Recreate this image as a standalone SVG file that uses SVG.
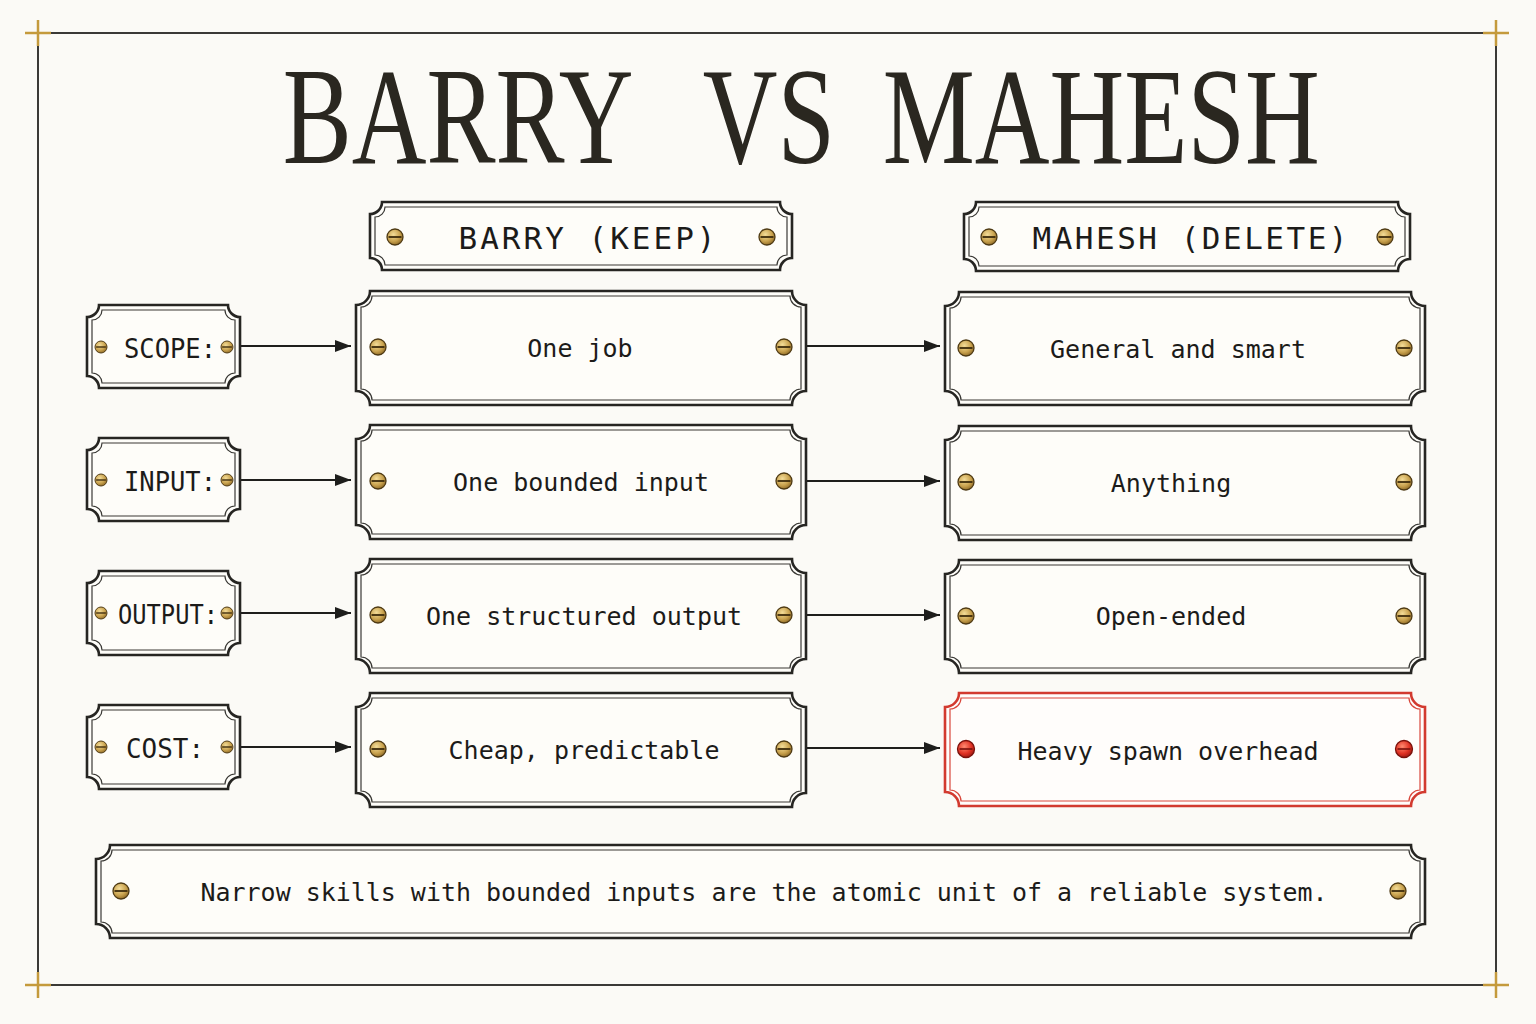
<svg xmlns="http://www.w3.org/2000/svg" width="1536" height="1024" viewBox="0 0 1536 1024">
<style>
.plate{fill:#fefdf9;stroke:#262522;stroke-width:2.6}
.inner{fill:none;stroke:#3a3935;stroke-width:1.2}
.red .plate{stroke:#d23a2f;fill:#fffdfb}
.red .inner{stroke:#d9483c}
.t{font-family:"DejaVu Sans Mono","Liberation Mono",monospace;fill:#1c1b19;text-anchor:middle;dominant-baseline:central}
.title{font-family:"Liberation Serif","DejaVu Serif",serif;fill:#2a2720;font-size:138px}
.conn line{stroke:#1e1e1c;stroke-width:2}
.frame{fill:none;stroke:#3a3936;stroke-width:2}
.cross{stroke:#c49a3c;stroke-width:2.5}
</style>
<defs>
<radialGradient id="brass" cx="0.4" cy="0.35" r="0.7">
<stop offset="0" stop-color="#f3dc98"/>
<stop offset="0.6" stop-color="#c9a24e"/>
<stop offset="1" stop-color="#8a6623"/>
</radialGradient>
<radialGradient id="ruby" cx="0.4" cy="0.35" r="0.7">
<stop offset="0" stop-color="#ff8a70"/>
<stop offset="0.6" stop-color="#e03224"/>
<stop offset="1" stop-color="#9c1610"/>
</radialGradient>
<g id="screw"><circle r="8" fill="url(#brass)" stroke="#4e3a14" stroke-width="1.3"/><line x1="-6.5" x2="6.5" y1="0" y2="0" stroke="#3e2c0c" stroke-width="1.8"/></g>
<g id="screwRed"><circle r="8.5" fill="url(#ruby)" stroke="#7a120c" stroke-width="1.3"/><line x1="-6.5" x2="6.5" y1="0" y2="0" stroke="#7a120c" stroke-width="1.6"/></g>
<marker id="arrow" viewBox="0 0 16 12" refX="16" refY="6" markerWidth="16" markerHeight="12" markerUnits="userSpaceOnUse" orient="auto">
<path d="M0,0 L16,6 L0,12 Z" fill="#1e1e1c"/>
</marker>
</defs>
<rect width="1536" height="1024" fill="#fbfaf6"/>
<g id="frame">
<rect class="frame" x="38" y="33" width="1458" height="952"/>
<g class="cross">
<line x1="25" y1="33" x2="51" y2="33"/><line x1="38" y1="20" x2="38" y2="46"/>
<line x1="1483" y1="33" x2="1509" y2="33"/><line x1="1496" y1="20" x2="1496" y2="46"/>
<line x1="25" y1="985" x2="51" y2="985"/><line x1="38" y1="972" x2="38" y2="998"/>
<line x1="1483" y1="985" x2="1509" y2="985"/><line x1="1496" y1="972" x2="1496" y2="998"/>
</g>
</g>
<g id="title" transform="scale(0.75,1)">
<text class="title" y="163"><tspan x="377">BARRY</tspan><tspan x="937">VS</tspan><tspan x="1177">MAHESH</tspan></text>
</g>
<g id="conn" class="conn">
<line x1="241" y1="346" x2="351" y2="346" marker-end="url(#arrow)"/>
<line x1="241" y1="480" x2="351" y2="480" marker-end="url(#arrow)"/>
<line x1="241" y1="613" x2="351" y2="613" marker-end="url(#arrow)"/>
<line x1="241" y1="747" x2="351" y2="747" marker-end="url(#arrow)"/>
<line x1="807" y1="346" x2="940" y2="346" marker-end="url(#arrow)"/>
<line x1="807" y1="481" x2="940" y2="481" marker-end="url(#arrow)"/>
<line x1="807" y1="615" x2="940" y2="615" marker-end="url(#arrow)"/>
<line x1="807" y1="748" x2="940" y2="748" marker-end="url(#arrow)"/>
</g>
<g id="head-barry">
<path class="plate" d="M382,202 H780 A12 12 0 0 0 792,214 V258 A12 12 0 0 0 780,270 H382 A12 12 0 0 0 370,258 V214 A12 12 0 0 0 382,202 Z"/>
<path class="inner" d="M385,207 H777 A10 10 0 0 0 787,217 V255 A10 10 0 0 0 777,265 H385 A10 10 0 0 0 375,255 V217 A10 10 0 0 0 385,207 Z"/>
<use href="#screw" x="395" y="237"/><use href="#screw" x="767" y="237"/>
<text class="t" x="587" y="238" font-size="31" textLength="257" lengthAdjust="spacing">BARRY (KEEP)</text>
</g>
<g id="head-mahesh">
<path class="plate" d="M976,202 H1398 A12 12 0 0 0 1410,214 V259 A12 12 0 0 0 1398,271 H976 A12 12 0 0 0 964,259 V214 A12 12 0 0 0 976,202 Z"/>
<path class="inner" d="M979,207 H1395 A10 10 0 0 0 1405,217 V256 A10 10 0 0 0 1395,266 H979 A10 10 0 0 0 969,256 V217 A10 10 0 0 0 979,207 Z"/>
<use href="#screw" x="989" y="237"/><use href="#screw" x="1385" y="237"/>
<text class="t" x="1190" y="238" font-size="31" textLength="315" lengthAdjust="spacing">MAHESH (DELETE)</text>
</g>
<g id="label-scope">
<path class="plate" d="M99,305 H228 A12 12 0 0 0 240,317 V376 A12 12 0 0 0 228,388 H99 A12 12 0 0 0 87,376 V317 A12 12 0 0 0 99,305 Z"/>
<path class="inner" d="M102,310 H225 A10 10 0 0 0 235,320 V373 A10 10 0 0 0 225,383 H102 A10 10 0 0 0 92,373 V320 A10 10 0 0 0 102,310 Z"/>
<use href="#screw" transform="translate(101,347) scale(0.75)"/><use href="#screw" transform="translate(227,347) scale(0.75)"/>
<text class="t" x="170" y="348" font-size="27" textLength="92" lengthAdjust="spacingAndGlyphs">SCOPE:</text>
</g>
<g id="label-input">
<path class="plate" d="M99,438 H228 A12 12 0 0 0 240,450 V509 A12 12 0 0 0 228,521 H99 A12 12 0 0 0 87,509 V450 A12 12 0 0 0 99,438 Z"/>
<path class="inner" d="M102,443 H225 A10 10 0 0 0 235,453 V506 A10 10 0 0 0 225,516 H102 A10 10 0 0 0 92,506 V453 A10 10 0 0 0 102,443 Z"/>
<use href="#screw" transform="translate(101,480) scale(0.75)"/><use href="#screw" transform="translate(227,480) scale(0.75)"/>
<text class="t" x="170" y="481" font-size="27" textLength="92" lengthAdjust="spacingAndGlyphs">INPUT:</text>
</g>
<g id="label-output">
<path class="plate" d="M99,571 H228 A12 12 0 0 0 240,583 V643 A12 12 0 0 0 228,655 H99 A12 12 0 0 0 87,643 V583 A12 12 0 0 0 99,571 Z"/>
<path class="inner" d="M102,576 H225 A10 10 0 0 0 235,586 V640 A10 10 0 0 0 225,650 H102 A10 10 0 0 0 92,640 V586 A10 10 0 0 0 102,576 Z"/>
<use href="#screw" transform="translate(101,613) scale(0.75)"/><use href="#screw" transform="translate(227,613) scale(0.75)"/>
<text class="t" x="168" y="614" font-size="27" textLength="100" lengthAdjust="spacingAndGlyphs">OUTPUT:</text>
</g>
<g id="label-cost">
<path class="plate" d="M99,705 H228 A12 12 0 0 0 240,717 V777 A12 12 0 0 0 228,789 H99 A12 12 0 0 0 87,777 V717 A12 12 0 0 0 99,705 Z"/>
<path class="inner" d="M102,710 H225 A10 10 0 0 0 235,720 V774 A10 10 0 0 0 225,784 H102 A10 10 0 0 0 92,774 V720 A10 10 0 0 0 102,710 Z"/>
<use href="#screw" transform="translate(101,747) scale(0.75)"/><use href="#screw" transform="translate(227,747) scale(0.75)"/>
<text class="t" x="165" y="748" font-size="27" textLength="78" lengthAdjust="spacingAndGlyphs">COST:</text>
</g>
<g id="barry-scope">
<path class="plate" d="M370,291 H792 A14 14 0 0 0 806,305 V391 A14 14 0 0 0 792,405 H370 A14 14 0 0 0 356,391 V305 A14 14 0 0 0 370,291 Z"/>
<path class="inner" d="M372,296 H790 A11 11 0 0 0 801,307 V389 A11 11 0 0 0 790,400 H372 A11 11 0 0 0 361,389 V307 A11 11 0 0 0 372,296 Z"/>
<use href="#screw" x="378" y="347"/><use href="#screw" x="784" y="347"/>
<text class="t" x="580" y="348" font-size="25">One job</text>
</g>
<g id="barry-input">
<path class="plate" d="M370,425 H792 A14 14 0 0 0 806,439 V525 A14 14 0 0 0 792,539 H370 A14 14 0 0 0 356,525 V439 A14 14 0 0 0 370,425 Z"/>
<path class="inner" d="M372,430 H790 A11 11 0 0 0 801,441 V523 A11 11 0 0 0 790,534 H372 A11 11 0 0 0 361,523 V441 A11 11 0 0 0 372,430 Z"/>
<use href="#screw" x="378" y="481"/><use href="#screw" x="784" y="481"/>
<text class="t" x="581" y="482" font-size="25">One bounded input</text>
</g>
<g id="barry-output">
<path class="plate" d="M370,559 H792 A14 14 0 0 0 806,573 V659 A14 14 0 0 0 792,673 H370 A14 14 0 0 0 356,659 V573 A14 14 0 0 0 370,559 Z"/>
<path class="inner" d="M372,564 H790 A11 11 0 0 0 801,575 V657 A11 11 0 0 0 790,668 H372 A11 11 0 0 0 361,657 V575 A11 11 0 0 0 372,564 Z"/>
<use href="#screw" x="378" y="615"/><use href="#screw" x="784" y="615"/>
<text class="t" x="584" y="616" font-size="25">One structured output</text>
</g>
<g id="barry-cost">
<path class="plate" d="M370,693 H792 A14 14 0 0 0 806,707 V793 A14 14 0 0 0 792,807 H370 A14 14 0 0 0 356,793 V707 A14 14 0 0 0 370,693 Z"/>
<path class="inner" d="M372,698 H790 A11 11 0 0 0 801,709 V791 A11 11 0 0 0 790,802 H372 A11 11 0 0 0 361,791 V709 A11 11 0 0 0 372,698 Z"/>
<use href="#screw" x="378" y="749"/><use href="#screw" x="784" y="749"/>
<text class="t" x="584" y="750" font-size="25">Cheap, predictable</text>
</g>
<g id="mahesh-scope">
<path class="plate" d="M959,292 H1411 A14 14 0 0 0 1425,306 V391 A14 14 0 0 0 1411,405 H959 A14 14 0 0 0 945,391 V306 A14 14 0 0 0 959,292 Z"/>
<path class="inner" d="M961,297 H1409 A11 11 0 0 0 1420,308 V389 A11 11 0 0 0 1409,400 H961 A11 11 0 0 0 950,389 V308 A11 11 0 0 0 961,297 Z"/>
<use href="#screw" x="966" y="348"/><use href="#screw" x="1404" y="348"/>
<text class="t" x="1178" y="349" font-size="25">General and smart</text>
</g>
<g id="mahesh-input">
<path class="plate" d="M959,426 H1411 A14 14 0 0 0 1425,440 V526 A14 14 0 0 0 1411,540 H959 A14 14 0 0 0 945,526 V440 A14 14 0 0 0 959,426 Z"/>
<path class="inner" d="M961,431 H1409 A11 11 0 0 0 1420,442 V524 A11 11 0 0 0 1409,535 H961 A11 11 0 0 0 950,524 V442 A11 11 0 0 0 961,431 Z"/>
<use href="#screw" x="966" y="482"/><use href="#screw" x="1404" y="482"/>
<text class="t" x="1171" y="483" font-size="25">Anything</text>
</g>
<g id="mahesh-output">
<path class="plate" d="M959,560 H1411 A14 14 0 0 0 1425,574 V659 A14 14 0 0 0 1411,673 H959 A14 14 0 0 0 945,659 V574 A14 14 0 0 0 959,560 Z"/>
<path class="inner" d="M961,565 H1409 A11 11 0 0 0 1420,576 V657 A11 11 0 0 0 1409,668 H961 A11 11 0 0 0 950,657 V576 A11 11 0 0 0 961,565 Z"/>
<use href="#screw" x="966" y="616"/><use href="#screw" x="1404" y="616"/>
<text class="t" x="1171" y="616" font-size="25">Open-ended</text>
</g>
<g id="mahesh-cost" class="red">
<path class="plate" d="M959,693 H1411 A14 14 0 0 0 1425,707 V792 A14 14 0 0 0 1411,806 H959 A14 14 0 0 0 945,792 V707 A14 14 0 0 0 959,693 Z"/>
<path class="inner" d="M961,698 H1409 A11 11 0 0 0 1420,709 V790 A11 11 0 0 0 1409,801 H961 A11 11 0 0 0 950,790 V709 A11 11 0 0 0 961,698 Z"/>
<use href="#screwRed" x="966" y="749"/><use href="#screwRed" x="1404" y="749"/>
<text class="t" x="1168" y="751" font-size="25">Heavy spawn overhead</text>
</g>
<g id="summary">
<path class="plate" d="M110,845 H1411 A14 14 0 0 0 1425,859 V924 A14 14 0 0 0 1411,938 H110 A14 14 0 0 0 96,924 V859 A14 14 0 0 0 110,845 Z"/>
<path class="inner" d="M112,850 H1409 A11 11 0 0 0 1420,861 V922 A11 11 0 0 0 1409,933 H112 A11 11 0 0 0 101,922 V861 A11 11 0 0 0 112,850 Z"/>
<use href="#screw" x="121" y="891"/><use href="#screw" x="1398" y="891"/>
<text class="t" x="764" y="892" font-size="25" textLength="1127" lengthAdjust="spacingAndGlyphs">Narrow skills with bounded inputs are the atomic unit of a reliable system.</text>
</g>
</svg>
